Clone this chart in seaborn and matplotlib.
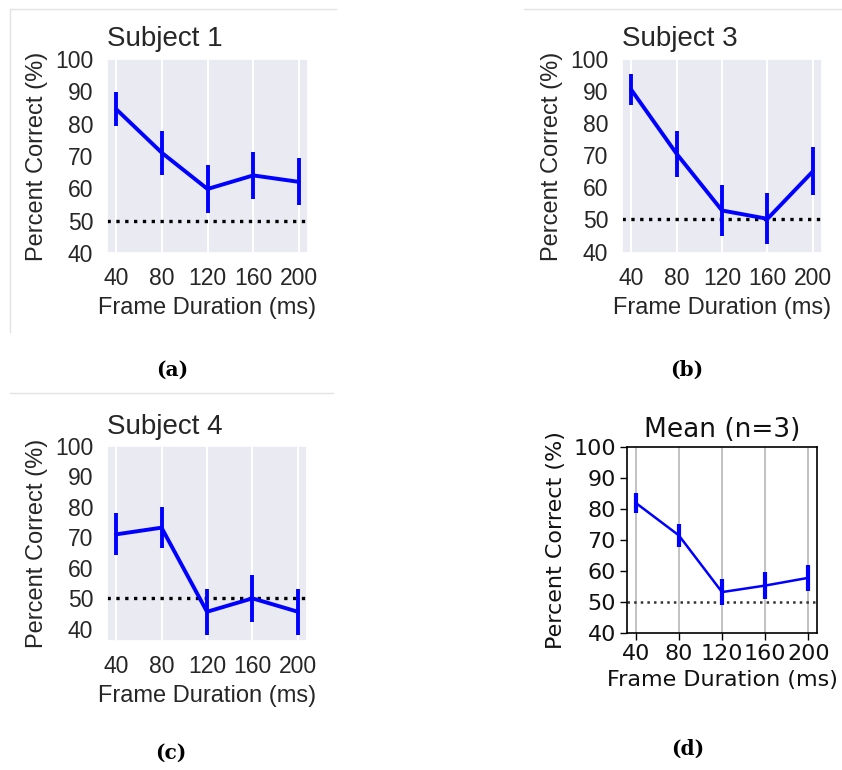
import numpy as np
import pandas as pd
import matplotlib.pyplot as plt
import seaborn as sns
from matplotlib.lines import Line2D

# =====================================================
# DATA
# =====================================================

durations = [40, 80, 120, 160, 200]
y_ticks = [40, 50, 60, 70, 80, 90, 100]

subject1_mean = [84.5, 71.0, 59.8, 64.0, 62.0]
subject1_err = [5.3, 6.8, 7.4, 7.3, 7.3]

subject3_mean = [90.5, 70.5, 52.8, 50.2, 65.0]
subject3_err = [4.7, 7.2, 7.9, 8.0, 7.5]

subject4_mean = [71.0, 73.2, 45.6, 50.0, 45.6]
subject4_err = [6.9, 6.8, 7.5, 7.7, 7.5]

mean_mean = [82.0, 71.5, 53.2, 55.3, 57.8]
mean_err = [3.2, 3.7, 4.3, 4.4, 4.2]

chance = 50

titles = ["Subject 1", "Subject 3", "Subject 4", "Mean (n=3)"]
captions = ["(a)", "(b)", "(c)", "(d)"]
x_label = "Frame Duration (ms)"
y_label = "Percent Correct (%)"

# =====================================================
# FIGURE
# =====================================================

sns.set_theme(style="darkgrid")
plt.rcParams["font.family"] = ["Liberation Sans", "DejaVu Sans"]

W, H = 842, 770
fig = plt.figure(figsize=(W / 100, H / 100), dpi=100)
fig.patch.set_facecolor("white")


def box(left, top, right, bottom):
    return [left / W, 1 - bottom / H, (right - left) / W, (bottom - top) / H]


def subject_panel(rect, means, errs, title):
    with sns.axes_style("darkgrid"):
        ax = fig.add_axes(rect)
    ax.axhline(chance, color="black", ls=":", lw=2.4, zorder=1)
    sns.lineplot(x=durations, y=means, ax=ax, color="blue", linewidth=2.8, zorder=3)
    ax.errorbar(durations, means, yerr=errs, fmt="none",
                ecolor="blue", elinewidth=2.8, capsize=0, zorder=3)
    ax.set_xticks(durations)
    ax.set_yticks(y_ticks)
    ax.yaxis.grid(False)
    ax.xaxis.grid(True, color="white", lw=1.4)
    ax.tick_params(labelsize=16.5, pad=4, colors="#262626",
                   labelfontfamily="Liberation Sans")
    ax.set_title(title, loc="left", fontsize=20, color="#262626",
                 pad=9, family="Liberation Sans")
    ax.set_xlabel(x_label, fontsize=17, color="#262626", labelpad=5,
                  family="Liberation Sans")
    ax.set_ylabel(y_label, fontsize=17, color="#262626", labelpad=5,
                  family="Liberation Sans")
    return ax


subject_panel(box(107, 59, 308, 253), subject1_mean, subject1_err, titles[0])
subject_panel(box(622, 59, 822, 253), subject3_mean, subject3_err, titles[1])
subject_panel(box(107, 446, 307, 641), subject4_mean, subject4_err, titles[2])

# mean panel, plain matplotlib look
with sns.axes_style("ticks"):
    axd = fig.add_axes(box(627, 447, 817, 633))
axd.axhline(chance, color="#333333", ls=":", lw=1.8, zorder=1)
sns.lineplot(x=durations, y=mean_mean, ax=axd, color="blue", linewidth=1.8, zorder=3)
axd.errorbar(durations, mean_mean, yerr=mean_err, fmt="none",
             ecolor="blue", elinewidth=3, capsize=0, zorder=3)
axd.set_xticks(durations)
axd.set_yticks(y_ticks)
axd.xaxis.grid(True, color="#b8b8b8", lw=1.2)
axd.yaxis.grid(False)
for side in ["left", "right", "top", "bottom"]:
    axd.spines[side].set_visible(True)
    axd.spines[side].set_color("black")
    axd.spines[side].set_linewidth(1.2)
axd.tick_params(direction="out", length=5, width=1, color="black",
                labelsize=16, labelcolor="#111111", pad=3,
                labelfontfamily="DejaVu Sans")
axd.set_title(titles[3], fontsize=19, color="#111111", pad=7, family="DejaVu Sans")
axd.set_xlabel(x_label, fontsize=16, color="#111111", labelpad=4, family="DejaVu Sans")
axd.set_ylabel(y_label, fontsize=16, color="#111111", labelpad=5, family="DejaVu Sans")

# =====================================================
# CAPTIONS AND FRAME LINES
# =====================================================

cap_pos = [(172, 370), (687, 370), (171, 753), (688, 749)]
for text, (cx, cy) in zip(captions, cap_pos):
    fig.text(cx / W, 1 - cy / H, text, ha="center", va="center",
             fontsize=14.5, fontweight="bold", family="DejaVu Serif", color="black")

frame_lines = [
    ([10, 336], [9, 9]),
    ([524, 842], [9, 9]),
    ([10, 10], [9, 332]),
    ([10, 333], [393, 393]),
]
for xs, ys in frame_lines:
    fig.add_artist(Line2D([x / W for x in xs], [1 - y / H for y in ys],
                          transform=fig.transFigure, color="#e2e2e2", lw=1))

plt.savefig("out.png", dpi=100, facecolor="white")
